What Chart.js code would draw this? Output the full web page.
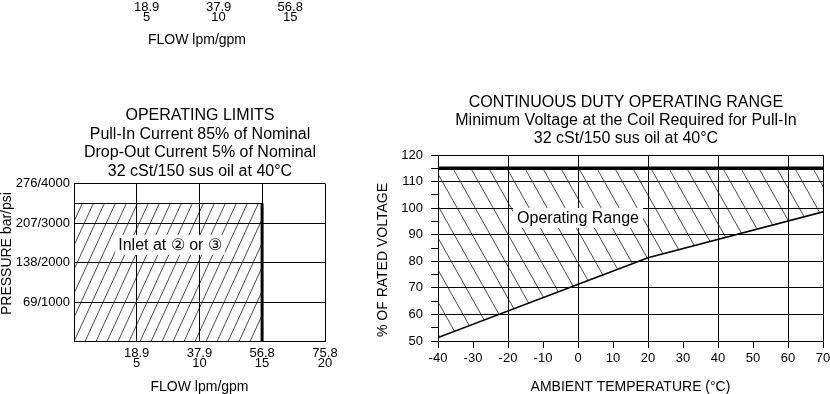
<!DOCTYPE html>
<html><head><meta charset="utf-8">
<script src="https://cdn.jsdelivr.net/npm/chart.js@4/dist/chart.umd.min.js"></script>
<style>
html,body{margin:0;padding:0;background:#fff;width:830px;height:394px;overflow:hidden;position:relative;}
.box{position:absolute;}
</style></head><body>
<div class="box" style="left:0;top:-65px;width:340px;height:112px"><canvas id="topc"></canvas></div>
<div class="box" style="left:0;top:95px;width:400px;height:299px"><canvas id="leftc"></canvas></div>
<div class="box" style="left:370px;top:85px;width:512px;height:309px"><canvas id="rightc"></canvas></div>
<script>
// ---- data ----
const flowLpm = [18.9, 37.9, 56.8, 75.8];
const flowGpm = [5, 10, 15, 20];
const topFlowLpm = [18.9, 37.9, 56.8];
const topFlowGpm = [5, 10, 15];
const pressureBar = [0, 69, 138, 207, 276];
const pressurePsi = [0, 1000, 2000, 3000, 4000];
const limitFlow = [0, 56.8];
const limitPressure = [241, 241];
const temps = [-40, 20, 70];
const minVoltage = [51.3, 81.3, 98.6];
const maxVoltage = [115, 115, 115];

const FONT = "'Liberation Sans', Arial, Helvetica, sans-serif";
Chart.defaults.font.family = FONT;
Chart.defaults.color = '#000';
Chart.defaults.animation = false;

function hatch(canvasId, w, h, dir) {
  const c = document.createElement('canvas'); c.width = w; c.height = h;
  const g = c.getContext('2d');
  g.strokeStyle = '#111'; g.lineWidth = 0.75;
  g.beginPath();
  for (const o of [-w, 0, w]) {
    if (dir === 'back') { g.moveTo(o, 0); g.lineTo(o + w, h); }
    else { g.moveTo(o, h); g.lineTo(o + w, 0); }
  }
  g.stroke();
  return document.getElementById(canvasId).getContext('2d').createPattern(c, 'repeat');
}

const labelPlugin = {
  id: 'boxLabel',
  afterDatasetsDraw(chart, args, o) {
    if (!o || !o.text) return;
    const { ctx, scales: { x, y } } = chart;
    ctx.save();
    ctx.font = o.size + 'px ' + FONT;
    const px = x.getPixelForValue(o.x), py = y.getPixelForValue(o.y);
    const w = ctx.measureText(o.text).width;
    ctx.fillStyle = '#fff';
    ctx.fillRect(px - w / 2 - o.padX, py - o.h / 2, w + 2 * o.padX, o.h);
    ctx.fillStyle = '#000'; ctx.textAlign = 'center'; ctx.textBaseline = 'middle';
    ctx.fillText(o.text, px, py + 1);
    ctx.restore();
  }
};

const sideTitle = {
  id: 'sideTitle',
  afterDraw(chart, args, o) {
    if (!o || !o.text) return;
    const ctx = chart.ctx, a = chart.chartArea;
    ctx.save();
    ctx.font = o.size + 'px ' + FONT;
    ctx.fillStyle = '#000'; ctx.textAlign = 'center'; ctx.textBaseline = 'middle';
    ctx.translate(o.x, (a.top + a.bottom) / 2 + o.dy);
    ctx.rotate(-Math.PI / 2);
    ctx.fillText(o.text, 0, 0);
    ctx.restore();
  }
};

// ---- top remnant (x axis of a chart above) ----
new Chart(document.getElementById('topc'), {
  type: 'line',
  data: { datasets: [] },
  options: {
    responsive: true, maintainAspectRatio: false,
    layout: { padding: { left: 75, right: 21, top: 0, bottom: 0 } },
    plugins: { legend: { display: false }, tooltip: { enabled: false } },
    scales: {
      x: {
        type: 'linear', min: 0, max: 64.4,
        afterBuildTicks: s => { s.ticks = topFlowLpm.map(v => ({ value: v })); },
        afterFit: s => { s.height = 52; },
        grid: { display: false, drawTicks: false }, border: { display: false },
        ticks: { font: { size: 13, lineHeight: 0.8 }, padding: 7, maxRotation: 0, autoSkip: false,
          callback: (v, i) => [String(topFlowLpm[i]), String(topFlowGpm[i])] },
        title: { display: true, text: 'FLOW lpm/gpm', font: { size: 14, lineHeight: 1 }, padding: 0 }
      },
      y: { display: false, min: 0, max: 1 }
    }
  }
});

// ---- left chart: operating limits ----
new Chart(document.getElementById('leftc'), {
  type: 'line',
  data: {
    datasets: [
      { data: limitFlow.map((f, i) => ({ x: f, y: limitPressure[i] })),
        borderColor: '#000', borderWidth: 1, pointRadius: 0, fill: 'origin',
        backgroundColor: hatch('leftc', 11, 24, 'fwd') },
      { data: [{ x: limitFlow[1], y: 0 }, { x: limitFlow[1], y: limitPressure[1] }],
        borderColor: '#000', borderWidth: 3, pointRadius: 0, fill: false }
    ]
  },
  options: {
    responsive: true, maintainAspectRatio: false,
    layout: { padding: 0 },
    plugins: {
      legend: { display: false }, tooltip: { enabled: false },
      title: { display: true, align: 'center', color: '#000',
        text: ['OPERATING LIMITS', 'Pull-In Current 85% of Nominal', 'Drop-Out Current 5% of Nominal', '32 cSt/150 sus oil at 40°C'],
        font: { size: 16, weight: 'normal', lineHeight: 1.15 }, padding: { top: 11.8, bottom: 3.1 } },
      boxLabel: { text: 'Inlet at ② or ③', x: 29, y: 169, size: 16, padX: 3, h: 20 },
      sideTitle: { text: 'PRESSURE bar/psi', size: 14, x: 7, dy: -9 }
    },
    scales: {
      x: {
        type: 'linear', min: 0, max: 75.8,
        afterBuildTicks: s => { s.ticks = flowLpm.map(v => ({ value: v })); },
        afterFit: s => { s.height = 52.3; },
        grid: { color: '#000', lineWidth: 1, drawTicks: false },
        border: { color: '#000', width: 1 },
        ticks: { font: { size: 13, lineHeight: 0.82 }, padding: 6, maxRotation: 0, autoSkip: false,
          callback: (v, i) => [String(flowLpm[i]), String(flowGpm[i])] },
        title: { display: true, text: 'FLOW lpm/gpm', font: { size: 14, lineHeight: 1 }, padding: 0 }
      },
      y: {
        type: 'linear', min: 0, max: 276,
        afterBuildTicks: s => { s.ticks = pressureBar.map(v => ({ value: v })); },
        afterFit: s => { s.width = 74; },
        grid: { color: '#000', lineWidth: 1, drawTicks: false },
        border: { color: '#000', width: 1 },
        ticks: { font: { size: 13 }, padding: 4, autoSkip: false,
          callback: (v, i) => i === 0 ? '' : pressureBar[i] + '/' + pressurePsi[i] }
      },
      y2: { position: 'right', display: true, min: 0, max: 1,
        afterFit: s => { s.width = 75; },
        grid: { display: false }, border: { display: false }, ticks: { display: false } }
    }
  },
  plugins: [labelPlugin, sideTitle]
});

// ---- right chart: continuous duty operating range ----
new Chart(document.getElementById('rightc'), {
  type: 'line',
  data: {
    datasets: [
      { data: temps.map((t, i) => ({ x: t, y: maxVoltage[i] })),
        borderColor: '#000', borderWidth: 3.5, pointRadius: 0, fill: false },
      { data: temps.map((t, i) => ({ x: t, y: minVoltage[i] })),
        borderColor: '#000', borderWidth: 1.6, pointRadius: 0, fill: 0,
        backgroundColor: hatch('rightc', 18, 32, 'back') }
    ]
  },
  options: {
    responsive: true, maintainAspectRatio: false,
    layout: { padding: 0 },
    plugins: {
      legend: { display: false }, tooltip: { enabled: false },
      title: { display: true, align: 'center', color: '#000',
        text: ['CONTINUOUS DUTY OPERATING RANGE', 'Minimum Voltage at the Coil Required for Pull-In', '32 cSt/150 sus oil at 40°C'],
        font: { size: 16, weight: 'normal', lineHeight: 1.15 }, padding: { top: 8, bottom: 6.8 } },
      boxLabel: { text: 'Operating Range', x: 0, y: 96.3, size: 16, padX: 4, h: 20 },
      sideTitle: { text: '% OF RATED VOLTAGE', size: 14, x: 13, dy: 12 }
    },
    scales: {
      x: {
        type: 'linear', min: -40, max: 70,
        afterFit: s => { s.height = 53; },
        grid: { color: c => (c.tick && (c.tick.value % 20 === 0 || c.tick.value === 70)) ? '#000' : 'rgba(0,0,0,0)',
          tickColor: '#000', tickLength: 7, lineWidth: 1 },
        border: { color: '#000', width: 1 },
        ticks: { stepSize: 10, font: { size: 13 }, padding: 3, maxRotation: 0, autoSkip: false },
        title: { display: true, text: 'AMBIENT TEMPERATURE (°C)', font: { size: 14, lineHeight: 1 }, padding: 0 }
      },
      y: {
        type: 'linear', min: 50, max: 120,
        afterFit: s => { s.width = 68; },
        grid: { color: c => (c.tick && c.tick.value % 10 === 0) ? '#000' : 'rgba(0,0,0,0)',
          tickColor: '#000', tickLength: 7, lineWidth: 1 },
        border: { color: '#000', width: 1 },
        ticks: { stepSize: 5, font: { size: 13 }, padding: 8, autoSkip: false,
          callback: v => v % 10 === 0 ? String(v) : '' }
      },
      y2: { position: 'right', display: true, min: 0, max: 1,
        afterFit: s => { s.width = 59; },
        grid: { display: false }, border: { display: false }, ticks: { display: false } }
    }
  },
  plugins: [labelPlugin, sideTitle]
});
</script>
</body></html>
